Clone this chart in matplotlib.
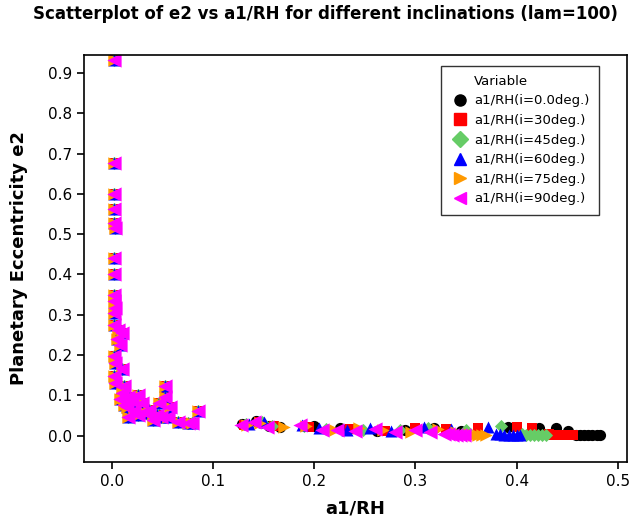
import numpy as np
import matplotlib.pyplot as plt
from matplotlib.lines import Line2D

# points shared by all inclinations (low a1/RH branch)
base_x = [0.002, 0.002, 0.002, 0.002, 0.002, 0.003, 0.002, 0.002, 0.002, 0.002,
          0.003, 0.002, 0.002, 0.006, 0.010, 0.005, 0.008, 0.002, 0.003, 0.010,
          0.002, 0.003, 0.012, 0.010, 0.016, 0.026, 0.030, 0.015, 0.016, 0.036,
          0.046, 0.052, 0.052, 0.057, 0.055, 0.065, 0.075, 0.085, 0.048, 0.026,
          0.040, 0.020, 0.008, 0.012, 0.022, 0.034, 0.044, 0.079]
base_e = [0.933, 0.677, 0.600, 0.563, 0.528, 0.516, 0.440, 0.400, 0.350, 0.333,
          0.318, 0.305, 0.275, 0.263, 0.255, 0.240, 0.226, 0.197, 0.180, 0.165,
          0.147, 0.130, 0.122, 0.107, 0.097, 0.100, 0.082, 0.072, 0.045, 0.064,
          0.082, 0.122, 0.097, 0.072, 0.047, 0.035, 0.032, 0.060, 0.045, 0.052,
          0.040, 0.085, 0.090, 0.075, 0.060, 0.055, 0.050, 0.032]

# high a1/RH branch, per inclination
x_00 = [0.128, 0.142, 0.155, 0.166, 0.200, 0.225, 0.262, 0.290, 0.318, 0.345,
        0.391, 0.422, 0.439, 0.451, 0.459, 0.463, 0.467, 0.471, 0.475, 0.479, 0.482]
e_00 = [0.028, 0.036, 0.024, 0.022, 0.025, 0.018, 0.012, 0.015, 0.020, 0.012,
        0.022, 0.020, 0.018, 0.012, 0.002, 0.002, 0.001, 0.001, 0.001, 0.001, 0.001]
x_30 = [0.130, 0.145, 0.160, 0.195, 0.235, 0.270, 0.300, 0.330, 0.362, 0.400,
        0.415, 0.432, 0.436, 0.440, 0.444, 0.448, 0.452, 0.456]
e_30 = [0.027, 0.035, 0.025, 0.022, 0.016, 0.012, 0.018, 0.016, 0.020, 0.022,
        0.020, 0.003, 0.002, 0.002, 0.002, 0.001, 0.001, 0.001]
x_45 = [0.132, 0.148, 0.158, 0.190, 0.212, 0.248, 0.285, 0.312, 0.350, 0.385,
        0.405, 0.409, 0.413, 0.417, 0.421, 0.425, 0.429]
e_45 = [0.028, 0.034, 0.024, 0.024, 0.016, 0.013, 0.015, 0.019, 0.014, 0.024,
        0.003, 0.002, 0.002, 0.002, 0.001, 0.001, 0.001]
x_60 = [0.135, 0.150, 0.188, 0.205, 0.232, 0.255, 0.276, 0.308, 0.335, 0.372,
        0.380, 0.384, 0.388, 0.392, 0.396, 0.400, 0.403]
e_60 = [0.030, 0.033, 0.026, 0.020, 0.014, 0.020, 0.012, 0.022, 0.016, 0.022,
        0.004, 0.003, 0.002, 0.002, 0.002, 0.002, 0.001]
x_75 = [0.133, 0.146, 0.170, 0.192, 0.220, 0.244, 0.268, 0.296, 0.322, 0.340,
        0.354, 0.358, 0.362, 0.366, 0.370]
e_75 = [0.027, 0.032, 0.022, 0.024, 0.014, 0.018, 0.014, 0.010, 0.016, 0.008,
        0.003, 0.002, 0.002, 0.002, 0.002]
x_90 = [0.127, 0.140, 0.153, 0.186, 0.208, 0.222, 0.240, 0.260, 0.280, 0.300,
        0.314, 0.328, 0.332, 0.336, 0.340, 0.344, 0.348]
e_90 = [0.027, 0.035, 0.022, 0.026, 0.015, 0.015, 0.012, 0.017, 0.010, 0.014,
        0.008, 0.004, 0.003, 0.002, 0.002, 0.002, 0.002]

labels = ['a1/RH(i=0.0deg.)', 'a1/RH(i=30deg.)', 'a1/RH(i=45deg.)',
          'a1/RH(i=60deg.)', 'a1/RH(i=75deg.)', 'a1/RH(i=90deg.)']
colors = ['black', '#ff0000', '#66cc66', '#0000ff', '#ff9900', '#ff00ff']
markers = ['o', 's', 'D', '^', '>', '<']
sizes = [65, 42, 45, 75, 80, 105]
xs = [x_00, x_30, x_45, x_60, x_75, x_90]
es = [e_00, e_30, e_45, e_60, e_75, e_90]

fig = plt.figure(figsize=(6.3, 5.23), dpi=100)
ax = fig.add_axes([0.133, 0.117, 0.862, 0.778])

for xx, ee, c, m, s in zip(xs, es, colors, markers, sizes):
    ax.scatter(base_x + xx, base_e + ee, c=c, marker=m, s=s, linewidths=0)

ax.set_xlim(-0.028, 0.509)
ax.set_ylim(-0.065, 0.945)
ax.set_xticks([0.0, 0.1, 0.2, 0.3, 0.4, 0.5])
ax.set_yticks(np.arange(0, 0.91, 0.1))
ax.xaxis.set_major_formatter(plt.FormatStrFormatter('%.1f'))
ax.yaxis.set_major_formatter(plt.FormatStrFormatter('%.1f'))
ax.tick_params(labelsize=11, length=5, width=1.2)
for sp in ax.spines.values():
    sp.set_linewidth(1.2)

ax.set_xlabel('a1/RH', fontsize=13, fontweight='bold', labelpad=8)
ax.set_ylabel('Planetary Eccentricity e2', fontsize=13, fontweight='bold', labelpad=14)
fig.suptitle('Scatterplot of e2 vs a1/RH for different inclinations (lam=100)',
             fontsize=12, fontweight='bold', x=0.516, y=0.99)

handles = [Line2D([], [], linestyle='none')]
handles += [Line2D([], [], linestyle='none', marker=m, color=c, markersize=8)
            for m, c in zip(markers, colors)]
leg = ax.legend(handles, ['Variable'] + labels, loc='upper right',
                bbox_to_anchor=(0.96, 0.99), fontsize=9.5, frameon=True,
                fancybox=False, edgecolor='black', handletextpad=0.3,
                borderpad=0.7, labelspacing=0.5, handlelength=1.5)
leg.get_frame().set_linewidth(1.0)

plt.savefig('out.png', dpi=100)
